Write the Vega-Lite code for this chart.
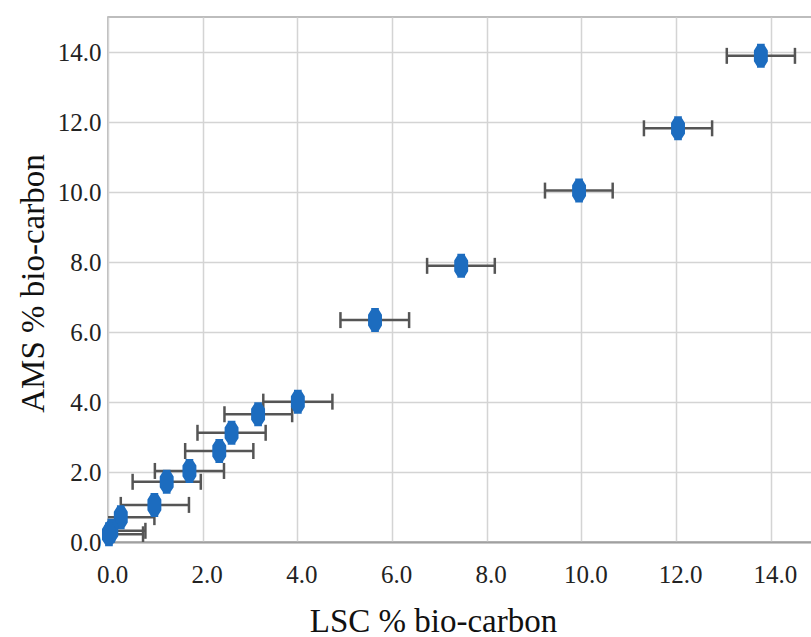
{
  "$schema": "https://vega.github.io/schema/vega-lite/v6.json",
  "width": 704,
  "height": 525,
  "autosize": {"type": "none"},
  "padding": {"left": 108, "top": 17, "right": 0, "bottom": 95},
  "background": "white",
  "config": {
    "font": "Liberation Serif",
    "view": {"stroke": "#a8a8a8", "strokeWidth": 1.5},
    "style": {
      "guide-label": {"font": "Liberation Serif", "fontSize": 25, "fill": "#222222"},
      "guide-title": {"font": "Liberation Serif", "fontSize": 33, "fontWeight": "normal", "fill": "#111111"}
    },
    "axis": {"labelFont": "Liberation Serif", "labelFontSize": 25, "labelColor": "#222222"}
  },
  "data": {
    "values": [
      {"x": 13.79, "y": 13.89, "lo": 13.07, "hi": 14.51},
      {"x": 12.04, "y": 11.82, "lo": 11.32, "hi": 12.76},
      {"x": 9.95, "y": 10.04, "lo": 9.23, "hi": 10.66},
      {"x": 7.46, "y": 7.89, "lo": 6.74, "hi": 8.17},
      {"x": 5.64, "y": 6.34, "lo": 4.91, "hi": 6.36},
      {"x": 4.01, "y": 4.01, "lo": 3.28, "hi": 4.74},
      {"x": 3.17, "y": 3.65, "lo": 2.46, "hi": 3.89},
      {"x": 2.61, "y": 3.12, "lo": 1.89, "hi": 3.33},
      {"x": 2.35, "y": 2.6, "lo": 1.63, "hi": 3.07},
      {"x": 1.72, "y": 2.03, "lo": 0.99, "hi": 2.45},
      {"x": 1.24, "y": 1.72, "lo": 0.52, "hi": 1.96},
      {"x": 0.98, "y": 1.06, "lo": 0.27, "hi": 1.71},
      {"x": 0.27, "y": 0.71, "lo": -0.44, "hi": 0.98},
      {"x": 0.07, "y": 0.32, "lo": -0.65, "hi": 0.79},
      {"x": 0.02, "y": 0.22, "lo": -0.7, "hi": 0.74}
    ]
  },
  "encoding": {
    "y": {
      "field": "y",
      "type": "quantitative",
      "title": "AMS % bio-carbon",
      "scale": {"domain": [0, 15], "nice": false},
      "axis": {
        "values": [0, 2, 4, 6, 8, 10, 12, 14],
        "format": ".1f",
        "grid": true,
        "gridColor": "#d4d4d4",
        "gridWidth": 1.5,
        "ticks": false,
        "domain": false,
        "labelFont": "Liberation Serif",
        "labelFontSize": 25,
        "labelColor": "#222222",
        "labelPadding": 7,
        "labelBaseline": "middle",
        "titleFont": "Liberation Serif",
        "titleFontSize": 33,
        "titleFontWeight": "normal",
        "titleColor": "#111111",
        "titleX": -65,
        "titleY": 266,
        "titleAlign": "center",
        "titleBaseline": "alphabetic",
        "titleAngle": -90
      }
    }
  },
  "layer": [
    {
      "mark": {"type": "rule", "color": "#555555", "strokeWidth": 2.5, "clip": true},
      "encoding": {
        "x": {
          "field": "lo",
          "type": "quantitative",
          "title": "LSC % bio-carbon",
          "scale": {"domain": [0, 14.87], "nice": false, "zero": false},
          "axis": {
            "values": [0, 2, 4, 6, 8, 10, 12, 14],
            "format": ".1f",
            "grid": true,
            "gridColor": "#d4d4d4",
            "gridWidth": 1.5,
            "ticks": false,
            "domain": true,
            "domainColor": "#a0a0a0",
            "domainWidth": 2,
            "labelFont": "Liberation Serif",
            "labelFontSize": 25,
            "labelColor": "#222222",
            "labelPadding": 20,
            "labelOffset": 4,
            "labelFlush": false,
            "titleFont": "Liberation Serif",
            "titleFontSize": 33,
            "titleFontWeight": "normal",
            "titleColor": "#111111",
            "titleX": 325,
            "titleY": 89,
            "titleAlign": "center",
            "titleBaseline": "alphabetic"
          }
        },
        "x2": {"field": "hi"}
      }
    },
    {
      "mark": {"type": "tick", "orient": "vertical", "color": "#555555", "thickness": 2.5, "size": 16, "clip": true, "opacity": 1},
      "encoding": {
        "x": {"field": "lo", "type": "quantitative", "title": "LSC % bio-carbon"}
      }
    },
    {
      "mark": {"type": "tick", "orient": "vertical", "color": "#555555", "thickness": 2.5, "size": 16, "clip": true, "opacity": 1},
      "encoding": {
        "x": {"field": "hi", "type": "quantitative", "title": "LSC % bio-carbon"}
      }
    },
    {
      "mark": {
        "type": "point",
        "shape": "M-0.32,-1 L0.32,-1 L0.32,-0.86 L0.58,-0.45 L0.58,0.45 L0.32,0.86 L0.32,1 L-0.32,1 L-0.32,0.86 L-0.58,0.45 L-0.58,-0.45 L-0.32,-0.86 Z",
        "size": 576,
        "filled": true,
        "color": "#1c6cbf",
        "opacity": 1
      },
      "encoding": {
        "x": {"field": "x", "type": "quantitative", "title": "LSC % bio-carbon"}
      }
    }
  ]
}
